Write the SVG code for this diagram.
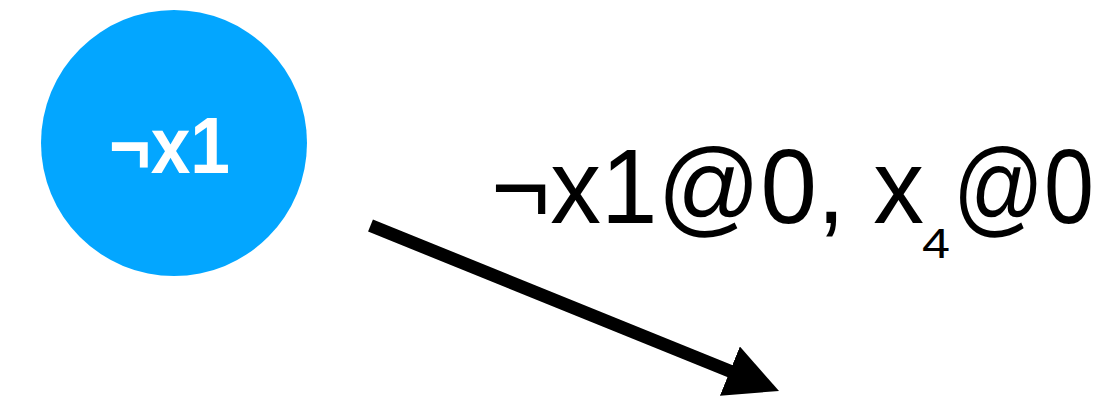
<svg xmlns="http://www.w3.org/2000/svg" width="1116" height="399" viewBox="0 0 1116 399">
  <style>
    .node-fill { fill: #03A6FF; }
    .node-label { font-family: "Liberation Sans", Arial, sans-serif; font-weight: bold; font-size: 80px; fill: #FFFFFF; }
    .edge-label { font-family: "Liberation Sans", Arial, sans-serif; font-size: 106px; fill: #000000; }
    .edge-sub { font-family: "Liberation Sans", Arial, sans-serif; font-size: 42px; fill: #000000; }
    .edge { stroke: #000000; stroke-width: 13; fill: none; stroke-linecap: butt; }
  </style>
  <defs>
    <marker id="arrowhead" markerUnits="userSpaceOnUse" markerWidth="53" markerHeight="53" viewBox="0 0 53 53" refX="3" refY="26.5" orient="auto">
      <path d="M0,0 L53,26.5 L0,53 Z" fill="#000000"/>
    </marker>
  </defs>
  <rect width="1116" height="399" fill="#FFFFFF"/>
  <g id="node-not-x1">
    <circle class="node-fill" cx="174" cy="143" r="133"/>
    <text class="node-label" x="109" y="173" textLength="121" lengthAdjust="spacingAndGlyphs">¬x1</text>
  </g>
  <g id="connectors">
    <line class="edge" x1="370.5" y1="225.5" x2="732.7" y2="372.2" marker-end="url(#arrowhead)"/>
    <g id="edge-label">
      <text class="edge-label" x="491" y="223" textLength="433" lengthAdjust="spacingAndGlyphs">¬x1@0, x</text>
      <text class="edge-sub" x="922" y="258" textLength="28" lengthAdjust="spacingAndGlyphs">4</text>
      <text class="edge-label" x="953" y="223" textLength="141" lengthAdjust="spacingAndGlyphs">@0</text>
    </g>
  </g>
</svg>
